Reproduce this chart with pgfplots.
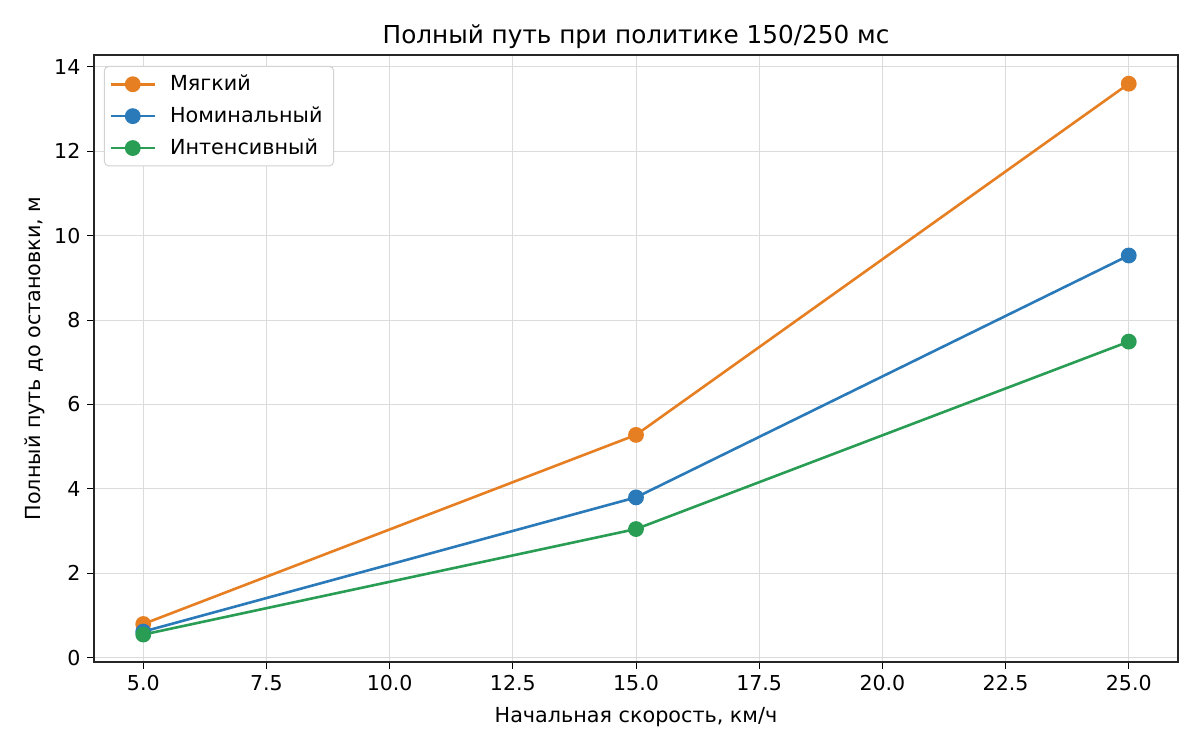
\documentclass[border=0pt]{standalone}
\usepackage{pgfplots}
\pgfplotsset{compat=1.18}
\usepackage{fontspec}
\setmainfont{DejaVu Sans}
\definecolor{corange}{HTML}{E67E22}
\definecolor{cblue}{HTML}{2A7AB9}
\definecolor{cgreen}{HTML}{2A9D55}
\begin{document}
\begin{tikzpicture}[x=1bp,y=1bp]
\useasboundingbox (-47,-44) rectangle (553,331);
\begin{axis}[
  at={(0,0)}, anchor=south west,
  scale only axis, width=542bp, height=303.5bp,
  xmin=4, xmax=26, ymin=-0.1, ymax=14.28,
  xtick={5,7.5,10,12.5,15,17.5,20,22.5,25},
  xticklabels={5.0,7.5,10.0,12.5,15.0,17.5,20.0,22.5,25.0},
  ytick={0,2,4,6,8,10,12,14},
  /pgf/number format/assume math mode=true,
  tick label style={font=\fontsize{10.3}{12}\selectfont, text=black},
  tick align=outside, major tick length=3.3bp,
  tick style={black, line width=0.45bp},
  xtick pos=bottom, ytick pos=left,
  axis line style={line width=0.55bp, black!85},
  grid=major, grid style={gray!28, line width=0.5bp},
  xlabel={Начальная скорость, км/ч},
  ylabel={Полный путь до остановки, м},
  label style={font=\fontsize{10.4}{12}\selectfont},
  xlabel style={at={(0.5,0)}, anchor=base, yshift=-30bp},
  ylabel style={anchor=base, rotate=0},
  every axis y label/.append style={at={(-26.5bp,0.5)}},
  legend style={at={(0,1)}, anchor=north west, xshift=5bp, yshift=-5.5bp,
    draw=gray!35, rounded corners=2bp, line width=0.5bp,
    font=\fontsize{10.4}{12}\selectfont, row sep=2.6bp,
    inner xsep=2.5bp, inner ysep=2.2bp,
    nodes={inner xsep=3bp}},
  legend cell align=left,
  legend image code/.code={
    \draw[line width=1.3bp, mark=none] (0bp,0bp) -- (22bp,0bp);
    \draw[line width=1.3bp] plot[only marks] coordinates {(11bp,0bp)};
    \path (26bp,0bp);
  },
]
\addplot[corange, line width=1.3bp, mark=*, mark size=3.3bp] coordinates {(5,0.80) (15,5.28) (25,13.60)};
\addlegendentry{Мягкий}
\addplot[cblue, line width=1.3bp, mark=*, mark size=3.3bp] coordinates {(5,0.62) (15,3.80) (25,9.53)};
\addlegendentry{Номинальный}
\addplot[cgreen, line width=1.3bp, mark=*, mark size=3.3bp] coordinates {(5,0.55) (15,3.05) (25,7.49)};
\addlegendentry{Интенсивный}
\end{axis}
\node[anchor=base, font=\fontsize{12.4}{14}\selectfont] at (271,309.5) {Полный путь при политике 150/250 мс};
\end{tikzpicture}
\end{document}
